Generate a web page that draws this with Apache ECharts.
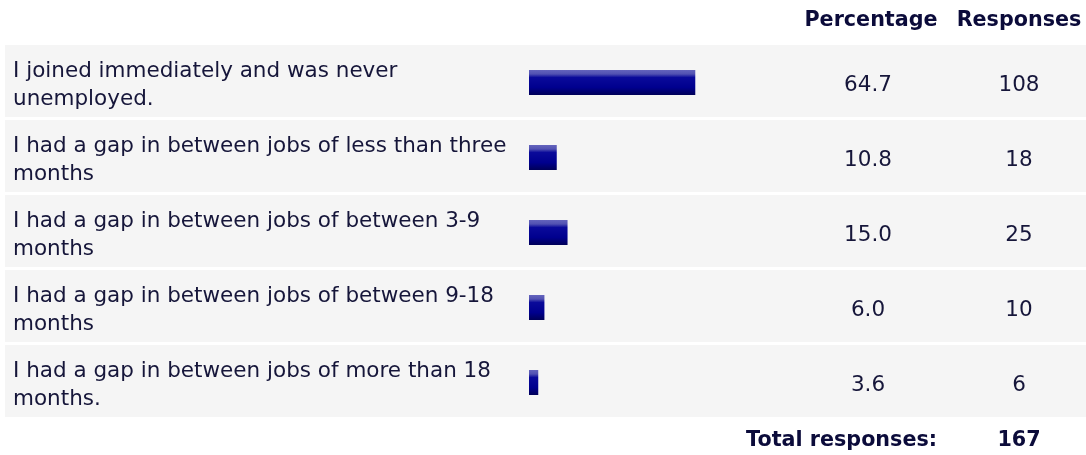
<!DOCTYPE html>
<html>
<head>
<meta charset="utf-8">
<script src="https://cdn.jsdelivr.net/npm/echarts@6/dist/echarts.min.js"></script>
<style>
  html, body { margin: 0; padding: 0; background: #ffffff; }
  #chart { width: 1086px; height: 455px; }
</style>
</head>
<body>
<div id="chart"></div>
<script>
// survey answers (line breaks as they wrap in the original)
const categories = [
  'I joined immediately and was never\nunemployed.',
  'I had a gap in between jobs of less than three\nmonths',
  'I had a gap in between jobs of between 3-9\nmonths',
  'I had a gap in between jobs of between 9-18\nmonths',
  'I had a gap in between jobs of more than 18\nmonths.'
]
const percentages = [64.7, 10.8, 15.0, 6.0, 3.6]
const responses = [108, 18, 25, 10, 6]
const headers = ['Percentage', 'Responses']
const totalLabel = 'Total responses:'

const textFont = '21.5px "DejaVu Sans", Verdana, sans-serif'
const boldFont = 'bold 20.7px "DejaVu Sans", Verdana, sans-serif'
const textColor = '#16163a'
const headColor = '#0b0b3a'
const pctX = 868
const respX = 1019

const total = responses.reduce(function (a, b) { return a + b }, 0)

const chart = echarts.init(document.getElementById('chart'))

const barColor = new echarts.graphic.LinearGradient(0, 0, 0, 1, [
  { offset: 0, color: '#6464bd' },
  { offset: 0.16, color: '#5252b2' },
  { offset: 0.3, color: '#0a0a9a' },
  { offset: 0.7, color: '#00008e' },
  { offset: 1, color: '#000058' }
])

const options = {
  animation: false,
  backgroundColor: '#ffffff',
  grid: [
    { left: 5, right: 0, top: 45, height: 375 },
    { left: 529, width: 257, top: 45, height: 375 }
  ],
  xAxis: [
    { gridIndex: 0, type: 'value', min: 0, max: 1, show: false },
    { gridIndex: 1, type: 'value', min: 0, max: 100, show: false }
  ],
  yAxis: [
    { gridIndex: 0, type: 'category', data: categories, inverse: true, show: false },
    { gridIndex: 1, type: 'category', data: categories, inverse: true, show: false }
  ],
  graphic: [
    {
      type: 'text', x: 871, y: 21,
      style: { text: headers[0], font: boldFont, fill: headColor, textAlign: 'center', textVerticalAlign: 'middle' }
    },
    {
      type: 'text', x: 1019, y: 21,
      style: { text: headers[1], font: boldFont, fill: headColor, textAlign: 'center', textVerticalAlign: 'middle' }
    },
    {
      type: 'text', x: 937, y: 441,
      style: { text: totalLabel, font: boldFont, fill: headColor, textAlign: 'right', textVerticalAlign: 'middle' }
    },
    {
      type: 'text', x: respX, y: 441,
      style: { text: String(total), font: boldFont, fill: headColor, textAlign: 'center', textVerticalAlign: 'middle' }
    }
  ],
  series: [
    {
      type: 'custom',
      xAxisIndex: 0,
      yAxisIndex: 0,
      z: 1,
      data: categories.map(function (c, i) { return [0, i, percentages[i], responses[i]] }),
      renderItem: function (params, api) {
        const idx = api.value(1)
        const cy = api.coord([0, idx])[1]
        const band = api.size([0, 1])[1]
        const cs = params.coordSys
        const top = cy - band / 2
        const ty = cy + 3
        return {
          type: 'group',
          children: [
            {
              type: 'rect',
              shape: { x: cs.x, y: top, width: cs.width, height: band - 3 },
              style: { fill: '#f5f5f5' }
            },
            {
              type: 'text',
              style: {
                x: 13, y: ty, text: categories[idx], font: textFont, fill: textColor,
                lineHeight: 28, textAlign: 'left', textVerticalAlign: 'middle'
              }
            },
            {
              type: 'text',
              style: {
                x: pctX, y: ty, text: api.value(2).toFixed(1), font: textFont, fill: textColor,
                textAlign: 'center', textVerticalAlign: 'middle'
              }
            },
            {
              type: 'text',
              style: {
                x: respX, y: ty, text: String(api.value(3)), font: textFont, fill: textColor,
                textAlign: 'center', textVerticalAlign: 'middle'
              }
            }
          ]
        }
      }
    },
    {
      type: 'bar',
      xAxisIndex: 1,
      yAxisIndex: 1,
      z: 5,
      barWidth: 25,
      itemStyle: { color: barColor },
      data: percentages
    }
  ]
}

chart.setOption(options)
</script>
</body>
</html>
